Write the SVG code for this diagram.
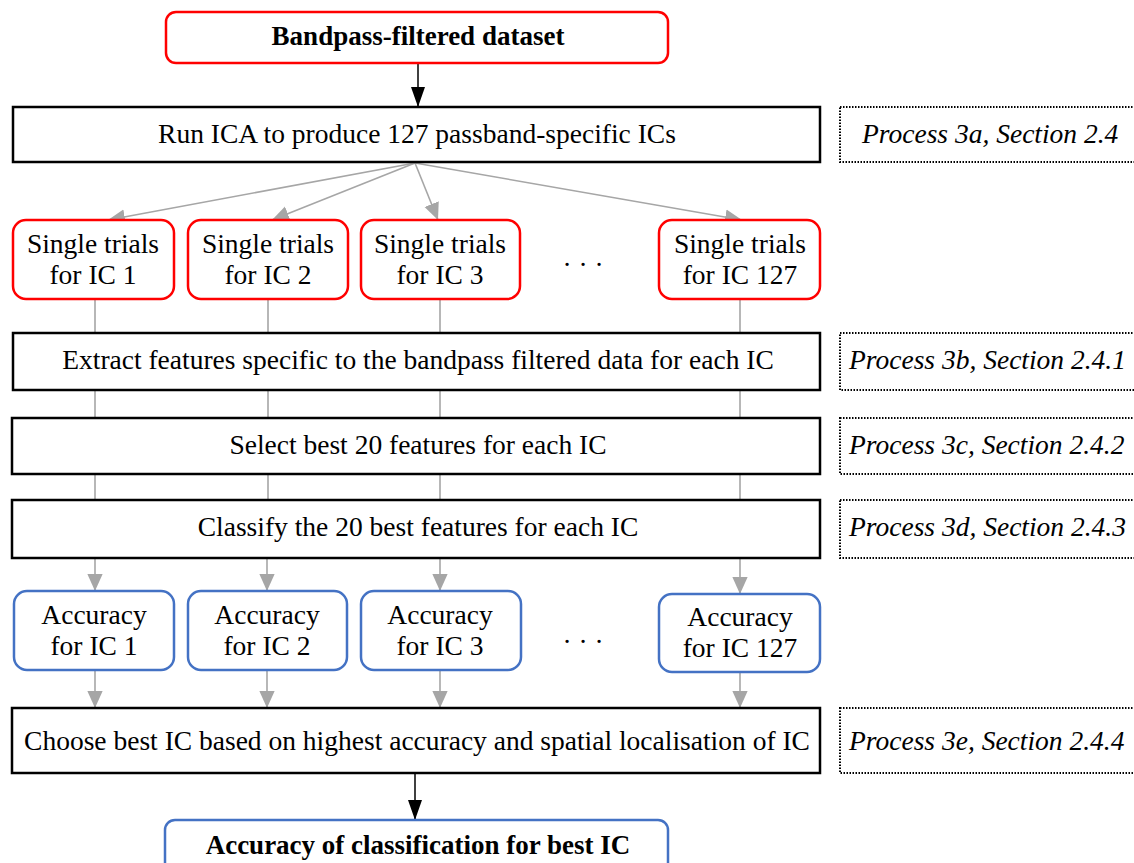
<svg xmlns="http://www.w3.org/2000/svg" width="1134" height="863" viewBox="0 0 1134 863">
<defs>
<style>
.t{font-family:"Liberation Serif","Times New Roman",serif;font-size:27.5px;fill:#000;text-anchor:middle}
.b{font-weight:bold;font-size:27px}
.i{font-style:italic;text-anchor:start}
.red{fill:#fff;stroke:#ff0000;stroke-width:2.5}
.blue{fill:#fff;stroke:#4472c4;stroke-width:2.5}
.blk{fill:#fff;stroke:#000;stroke-width:2.5}
.dot{fill:none;stroke:#000;stroke-width:2;stroke-dasharray:1.5 1.5}
.g{stroke:#a6a6a6;stroke-width:1.6;fill:none}
.k{stroke:#000;stroke-width:1.5;fill:none}
</style>
<marker id="ag" viewBox="0 0 10 10" refX="10" refY="5" markerWidth="17" markerHeight="17" markerUnits="userSpaceOnUse" orient="auto"><path d="M0,0.5 L10,5 L0,9.5 z" fill="#a6a6a6"/></marker>
<marker id="ak" viewBox="0 0 10 10" refX="10" refY="5" markerWidth="20" markerHeight="20" markerUnits="userSpaceOnUse" orient="auto"><path d="M0,1.5 L10,5 L0,8.5 z" fill="#000"/></marker>
</defs>
<rect width="1134" height="863" fill="#fff"/>
<g id="connectors">
<line class="k" x1="418" y1="63" x2="418" y2="107" marker-end="url(#ak)"/>
<line class="g" x1="415" y1="163" x2="108" y2="220" marker-end="url(#ag)"/>
<line class="g" x1="415" y1="163" x2="272" y2="220" marker-end="url(#ag)"/>
<line class="g" x1="415" y1="163" x2="438" y2="220" marker-end="url(#ag)"/>
<line class="g" x1="415" y1="163" x2="742" y2="220" marker-end="url(#ag)"/>
<g class="g">
<path d="M95 300V333M268 300V333M440 300V333M740 300V333"/>
<path d="M95 390V418M268 390V418M440 390V418M740 390V418"/>
<path d="M95 474V500M268 474V500M440 474V500M740 474V500"/>
</g>
<line class="g" x1="95" y1="559" x2="95" y2="591" marker-end="url(#ag)"/>
<line class="g" x1="267" y1="559" x2="267" y2="591" marker-end="url(#ag)"/>
<line class="g" x1="440" y1="559" x2="440" y2="591" marker-end="url(#ag)"/>
<line class="g" x1="740" y1="559" x2="740" y2="594" marker-end="url(#ag)"/>
<line class="g" x1="95" y1="671" x2="95" y2="708" marker-end="url(#ag)"/>
<line class="g" x1="267" y1="671" x2="267" y2="708" marker-end="url(#ag)"/>
<line class="g" x1="440" y1="671" x2="440" y2="708" marker-end="url(#ag)"/>
<line class="g" x1="740" y1="673" x2="740" y2="708" marker-end="url(#ag)"/>
<line class="k" x1="415" y1="774" x2="415" y2="820" marker-end="url(#ak)"/>
</g>
<g id="n-dataset"><rect class="red" x="166" y="12" width="502" height="51" rx="10"/><text class="t b" x="418" y="45">Bandpass-filtered dataset</text></g>
<g id="n-ica"><rect class="blk" x="13" y="107" width="807" height="55"/><text class="t" x="417" y="143">Run ICA to produce 127 passband-specific ICs</text></g>
<g id="n-p3a"><rect class="dot" x="840" y="107" width="300" height="55"/><text class="t i" x="862" y="143">Process 3a, Section 2.4</text></g>
<g id="n-st1"><rect class="red" x="13" y="220" width="161" height="79" rx="13"/><text class="t" x="93" y="253">Single trials</text><text class="t" x="93" y="284">for IC 1</text></g>
<g id="n-st2"><rect class="red" x="188" y="220" width="160" height="79" rx="13"/><text class="t" x="268" y="253">Single trials</text><text class="t" x="268" y="284">for IC 2</text></g>
<g id="n-st3"><rect class="red" x="361" y="220" width="159" height="79" rx="13"/><text class="t" x="440" y="253">Single trials</text><text class="t" x="440" y="284">for IC 3</text></g>
<text class="t" x="583" y="274">· · ·</text>
<g id="n-st127"><rect class="red" x="659" y="220" width="161" height="79" rx="13"/><text class="t" x="740" y="253">Single trials</text><text class="t" x="740" y="284">for IC 127</text></g>
<g id="n-extract"><rect class="blk" x="13" y="333" width="807" height="57"/><text class="t" x="418" y="369">Extract features specific to the bandpass filtered data for each IC</text></g>
<g id="n-p3b"><rect class="dot" x="840" y="333" width="300" height="57"/><text class="t i" x="849" y="369">Process 3b, Section 2.4.1</text></g>
<g id="n-select"><rect class="blk" x="12" y="418" width="808" height="56"/><text class="t" x="418" y="454">Select best 20 features for each IC</text></g>
<g id="n-p3c"><rect class="dot" x="840" y="418" width="300" height="56"/><text class="t i" x="849" y="454">Process 3c, Section 2.4.2</text></g>
<g id="n-classify"><rect class="blk" x="12" y="500" width="808" height="58"/><text class="t" x="418" y="536">Classify the 20 best features for each IC</text></g>
<g id="n-p3d"><rect class="dot" x="840" y="500" width="300" height="58"/><text class="t i" x="849" y="536">Process 3d, Section 2.4.3</text></g>
<g id="n-acc1"><rect class="blue" x="14" y="591" width="160" height="79" rx="13"/><text class="t" x="94" y="624">Accuracy</text><text class="t" x="94" y="655">for IC 1</text></g>
<g id="n-acc2"><rect class="blue" x="188" y="591" width="159" height="79" rx="13"/><text class="t" x="267" y="624">Accuracy</text><text class="t" x="267" y="655">for IC 2</text></g>
<g id="n-acc3"><rect class="blue" x="361" y="591" width="160" height="79" rx="13"/><text class="t" x="440" y="624">Accuracy</text><text class="t" x="440" y="655">for IC 3</text></g>
<text class="t" x="583" y="651">· · ·</text>
<g id="n-acc127"><rect class="blue" x="659" y="594" width="161" height="78" rx="13"/><text class="t" x="740" y="626">Accuracy</text><text class="t" x="740" y="657">for IC 127</text></g>
<g id="n-choose"><rect class="blk" x="12" y="708" width="808" height="65"/><text class="t" x="417" y="750">Choose best IC based on highest accuracy and spatial localisation of IC</text></g>
<g id="n-p3e"><rect class="dot" x="840" y="708" width="300" height="65"/><text class="t i" x="849" y="750">Process 3e, Section 2.4.4</text></g>
<g id="n-best"><rect class="blue" x="165" y="820" width="503" height="60" rx="10"/><text class="t b" x="418" y="854">Accuracy of classification for best IC</text></g>
</svg>
